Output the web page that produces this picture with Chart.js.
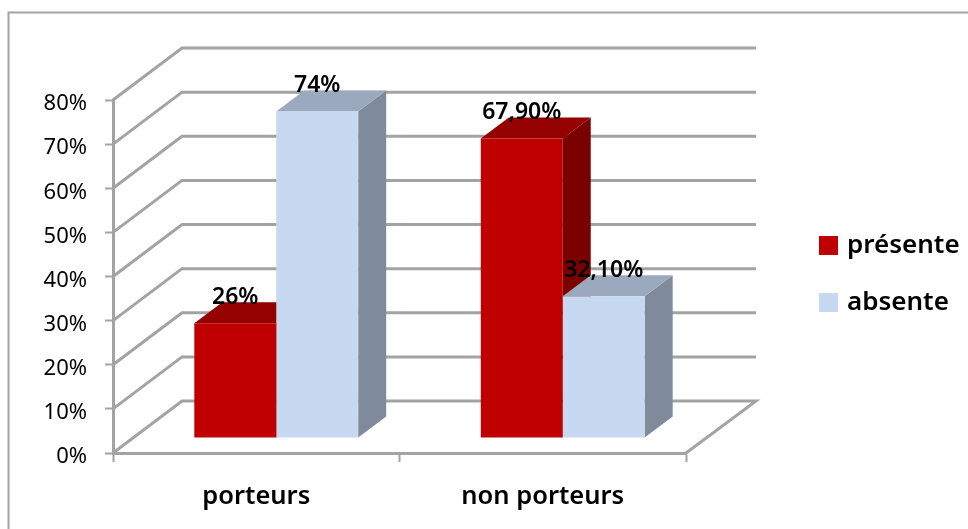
<!DOCTYPE html>
<html>
<head>
<meta charset="utf-8">
<style>html,body{margin:0;padding:0;background:#fff}canvas{display:block}</style>
<script src="https://cdn.jsdelivr.net/npm/chart.js@4/dist/chart.umd.min.js"></script>
</head>
<body>
<canvas id="c" width="968" height="529"></canvas>
<script>
const categories = ['porteurs', 'non porteurs'];
const presente = [26, 67.9];
const absente = [74, 32.1];
const presenteLabels = ['26%', '67,90%'];
const absenteLabels = ['74%', '32,10%'];
const seriesNames = ['présente', 'absente'];
const FAMILY = '"Noto Sans", sans-serif';
const GREY = '#a3a3a3';
const faces = [
  {top: '#950000', side: '#7b0000'},
  {top: '#9aa9bd', side: '#7f8b9b'}
];
const allLabels = [presenteLabels, absenteLabels];

const WALL = {dx: 69, dy: -52};
const BAR_SHIFT = {dx: 20, dy: -15};
const BAR_DEPTH = {dx: 28, dy: -21};

const scene = {
  id: 'scene',
  beforeDraw(chart) {
    const ctx = chart.ctx;
    ctx.save();
    ctx.strokeStyle = GREY;
    ctx.lineWidth = 2;
    ctx.beginPath();
    ctx.moveTo(8.5, 529);
    ctx.lineTo(8.5, 12.5);
    ctx.lineTo(968, 12.5);
    ctx.stroke();
    ctx.restore();
  },
  afterLayout(chart) {
    const l = chart.legend;
    const p = l.options.labels.padding;
    l.left = 823 - p; l.right = 968;
    l.top = 232.5 - p; l.bottom = 529;
    const y = chart.scales.y;
    if (!y._nudged) {
      const orig = y.drawLabels;
      y.drawLabels = function (area) {
        chart.ctx.save();
        chart.ctx.translate(0, 4);
        orig.call(this, area);
        chart.ctx.restore();
      };
      y._nudged = true;
    }
  },
  beforeDatasetsDraw(chart) {
    const ctx = chart.ctx, y = chart.scales.y, a = chart.chartArea;
    ctx.save();
    ctx.strokeStyle = GREY;
    ctx.lineWidth = 3;
    ctx.lineJoin = 'miter';
    y.ticks.forEach(t => {
      const py = y.getPixelForValue(t.value);
      ctx.beginPath();
      ctx.moveTo(a.left, py);
      ctx.lineTo(a.left + WALL.dx, py + WALL.dy);
      ctx.lineTo(a.right + WALL.dx + 1, py + WALL.dy);
      if (t.value === 0) ctx.lineTo(a.right, py);
      ctx.stroke();
    });
    [0, 1].forEach(d => {
      chart.getDatasetMeta(d).data.forEach(b => {
        const l = b.x - b.width / 2 + BAR_SHIFT.dx, r = b.x + b.width / 2 + BAR_SHIFT.dx;
        const t = b.y + BAR_SHIFT.dy, base = b.base + BAR_SHIFT.dy;
        ctx.fillStyle = faces[d].side;
        ctx.beginPath();
        ctx.moveTo(r, t);
        ctx.lineTo(r + BAR_DEPTH.dx, t + BAR_DEPTH.dy);
        ctx.lineTo(r + BAR_DEPTH.dx, base + BAR_DEPTH.dy);
        ctx.lineTo(r, base);
        ctx.closePath();
        ctx.fill();
        ctx.fillStyle = faces[d].top;
        ctx.beginPath();
        ctx.moveTo(l, t);
        ctx.lineTo(l + BAR_DEPTH.dx, t + BAR_DEPTH.dy);
        ctx.lineTo(r + BAR_DEPTH.dx, t + BAR_DEPTH.dy);
        ctx.lineTo(r, t);
        ctx.closePath();
        ctx.fill();
      });
    });
    ctx.restore();
    ctx.save();
    ctx.translate(BAR_SHIFT.dx, BAR_SHIFT.dy);
  },
  afterDatasetsDraw(chart) {
    const ctx = chart.ctx;
    ctx.restore();
    ctx.save();
    ctx.fillStyle = '#000';
    ctx.font = '600 23px ' + FAMILY;
    ctx.textAlign = 'center';
    ctx.textBaseline = 'middle';
    [0, 1].forEach(d => {
      chart.getDatasetMeta(d).data.forEach((b, i) => {
        ctx.fillText(allLabels[d][i], b.x + BAR_SHIFT.dx, b.y + BAR_SHIFT.dy - 26);
      });
    });
    ctx.restore();
  }
};

new Chart(document.getElementById('c'), {
  type: 'bar',
  data: {
    labels: categories,
    datasets: [
      {label: seriesNames[0], data: presente, backgroundColor: '#c00000'},
      {label: seriesNames[1], data: absente, backgroundColor: '#c6d9f1'}
    ]
  },
  options: {
    responsive: false,
    animation: false,
    devicePixelRatio: 1,
    layout: {padding: {left: 0, right: 282, top: 100, bottom: 0}},
    datasets: {bar: {categoryPercentage: 0.572, barPercentage: 1}},
    scales: {
      x: {
        grid: {drawOnChartArea: false, drawTicks: true, tickLength: 9, tickWidth: 2, tickColor: GREY, offset: true},
        border: {color: GREY, width: 3},
        ticks: {color: '#000', font: {family: FAMILY, size: 25.5, weight: '600'}, padding: 19, maxRotation: 0},
        afterFit(s) { s.height = 76; }
      },
      y: {
        min: 0, max: 80,
        grid: {drawOnChartArea: false, drawTicks: true, tickLength: 8, tickWidth: 2, tickColor: GREY},
        border: {color: GREY, width: 3},
        ticks: {stepSize: 10, color: '#000', font: {family: FAMILY, size: 22}, padding: 18, callback: v => v + '%'},
        afterFit(s) { s.width = 113; }
      }
    },
    plugins: {
      tooltip: {enabled: false},
      legend: {
        position: 'chartArea',
        align: 'start',
        labels: {
          boxWidth: 11, boxHeight: 11, padding: 31, color: '#000',
          font: {family: FAMILY, size: 26, weight: '600', lineHeight: 1},
          generateLabels: chart => Chart.defaults.plugins.legend.labels.generateLabels(chart)
            .map(item => ({...item, lineWidth: 8, strokeStyle: item.fillStyle}))
        }
      }
    }
  },
  plugins: [scene]
});
</script>
</body>
</html>
